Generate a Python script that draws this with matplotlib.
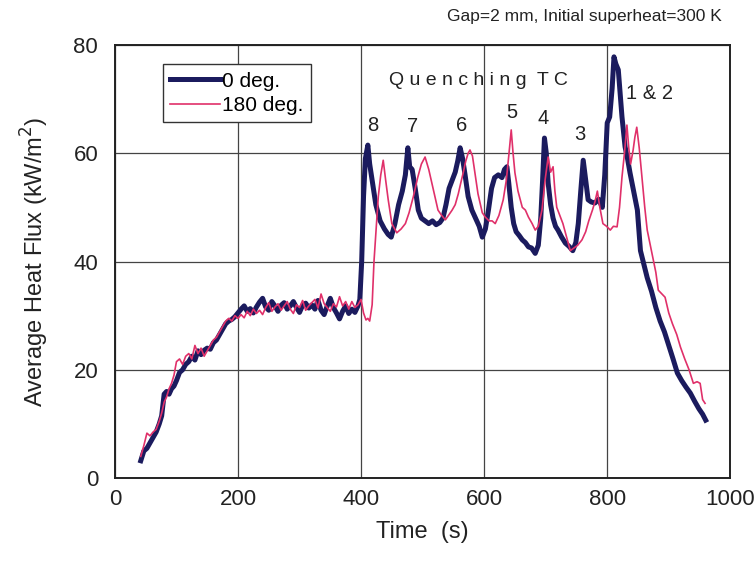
import matplotlib.pyplot as plt

plt.rcParams['font.family'] = ['Liberation Sans', 'DejaVu Sans']

# 0 deg. series (time in s, heat flux in kW/m2)
t_0deg = [42, 47, 52, 57, 62, 67, 72, 76, 80, 84,
          88, 92, 96, 100, 105, 110, 115, 120, 125, 130,
          135, 140, 145, 150, 155, 160, 165, 170, 175, 180,
          185, 190, 195, 200, 205, 210, 215, 220, 225, 230,
          235, 240, 245, 250, 255, 260, 265, 270, 275, 280,
          285, 290, 295, 300, 305, 310, 315, 320, 325, 330,
          335, 340, 345, 350, 355, 360, 365, 370, 375, 380,
          385, 390, 395, 398, 401, 404, 407, 411, 414, 418,
          424, 431, 438, 444, 449, 455, 461, 467, 472, 476,
          479, 483, 488, 493, 498, 504, 510, 516, 522, 528,
          533, 538, 543, 548, 553, 557, 561, 565, 569, 574,
          580, 586, 592, 597, 602, 607, 612, 617, 623, 629,
          633, 637, 640, 644, 648, 652, 657, 662, 667, 672,
          677, 683, 688, 692, 695, 698, 701, 704, 708, 712,
          716, 720, 726, 732, 738, 744, 749, 753, 757, 761,
          765, 769, 774, 780, 786, 792, 796, 800, 804, 808,
          811, 814, 818, 821, 824, 829, 833, 837, 843, 849,
          854, 859, 865, 872, 879, 886, 893, 900, 907, 914,
          921, 928, 935, 942, 949, 955, 960]
q_0deg = [3.2, 5.0, 5.5, 6.5, 7.5, 8.5, 10.0, 11.5, 15.5, 16.0,
          15.5, 16.5, 17.0, 18.0, 19.5, 20.0, 21.0, 21.5, 22.5, 21.8,
          23.5, 22.8, 23.6, 24.0, 23.8, 25.0, 25.5, 26.5, 27.5, 28.5,
          29.0, 29.3, 29.8, 30.5, 31.2, 31.8, 30.8, 31.3, 30.5, 31.6,
          32.5, 33.2, 31.6, 31.0, 32.6, 31.8, 30.8, 31.9, 32.4, 31.2,
          31.8, 32.6, 31.5, 30.6, 31.9, 32.3, 31.4, 32.0, 31.2, 32.8,
          31.0, 30.2, 31.8, 33.2, 31.5, 30.5, 29.4, 30.8, 31.8, 30.4,
          31.2, 30.6, 31.8, 33.0, 40.0, 52.0, 59.0, 61.5, 58.0, 55.0,
          50.5, 47.5, 46.0, 45.0, 44.5, 47.0, 50.5, 53.0, 56.0, 61.0,
          57.5, 57.0, 53.5, 49.5, 48.0, 47.5, 47.0, 47.5, 46.8, 47.2,
          48.0, 50.5, 53.5, 55.0, 56.5, 58.5, 61.0, 59.0, 56.0, 52.0,
          49.5, 48.0, 46.5, 44.5, 46.0, 49.5, 53.5, 55.5, 56.0, 55.5,
          57.0, 57.5, 54.5, 50.0, 47.0, 45.5, 44.8, 44.0, 43.5, 42.7,
          42.5, 41.5, 43.0, 48.0, 55.0, 62.8, 60.0, 54.5, 50.5, 48.0,
          46.5, 45.8, 44.5, 43.4, 42.8, 42.0, 43.5, 47.0, 53.0, 58.7,
          55.0, 51.4, 51.0, 50.8, 51.5, 50.0, 56.0, 65.6, 66.7, 72.0,
          77.8, 76.5, 75.4, 71.0, 66.7, 61.2, 59.0, 56.4, 53.0, 49.5,
          42.0, 39.7, 37.0, 34.5, 31.5, 29.0, 27.0, 24.5, 22.0, 19.4,
          18.0, 16.8, 15.7, 14.2, 12.8, 11.8, 10.7]

# 180 deg. series
t_180deg = [42, 47, 52, 57, 62, 67, 72, 76, 80, 84,
            88, 92, 96, 100, 105, 110, 115, 120, 125, 130,
            135, 140, 145, 150, 155, 160, 165, 170, 175, 180,
            185, 190, 195, 200, 205, 210, 215, 220, 225, 230,
            235, 240, 245, 250, 255, 260, 265, 270, 275, 280,
            285, 290, 295, 300, 305, 310, 315, 320, 325, 330,
            335, 340, 345, 350, 355, 360, 365, 370, 375, 380,
            385, 390, 395, 400, 404, 408, 411, 414, 418, 421,
            425, 428, 432, 436, 440, 444, 450, 458, 465, 472,
            478, 485, 492, 498, 504, 510, 515, 520, 525, 531,
            537, 542, 548, 553, 558, 562, 566, 570, 574, 577,
            581, 585, 590, 597, 602, 608, 613, 618, 624, 631,
            636, 640, 644, 647, 650, 655, 662, 667, 672, 678,
            683, 688, 694, 699, 704, 708, 712, 715, 718, 723,
            728, 734, 740, 746, 752, 759, 765, 770, 776, 780,
            784, 788, 793, 799, 805, 810, 816, 820, 824, 828,
            832, 835, 838, 842, 845, 848, 852, 857, 861, 865,
            870, 875, 879, 883, 889, 894, 900, 906, 913, 919,
            926, 933, 940, 946, 951, 955, 959]
q_180deg = [4.0, 6.0, 8.3, 7.8, 8.5, 9.0, 10.5, 12.0, 14.0, 15.0,
            16.5, 17.5, 19.0, 21.5, 22.0, 21.0, 22.5, 23.0, 22.0, 24.5,
            23.0, 24.0, 22.5, 23.5, 24.5, 25.5, 26.0, 27.0, 28.0, 29.0,
            29.5, 29.0, 30.0, 29.5, 30.2, 29.6, 30.8, 30.0, 31.2, 30.4,
            31.0, 30.2, 31.5, 32.4, 30.8, 31.6, 32.2, 31.0, 31.8, 32.6,
            31.2, 30.4, 32.0, 31.5, 32.8, 31.0, 31.8, 32.4, 33.0, 31.4,
            34.0, 32.2, 31.5, 30.8, 32.2, 31.6, 33.5, 31.8, 32.6, 31.2,
            32.6, 31.5, 32.0, 33.0, 30.5, 29.2, 29.5, 29.0, 32.0, 40.0,
            47.0, 52.0, 56.0, 58.7, 55.0, 51.5, 47.0, 45.3, 46.0, 47.0,
            49.0, 52.0, 55.5, 58.0, 59.3, 57.0, 54.5, 52.0, 49.5, 48.5,
            47.7, 48.5, 49.5, 50.5, 52.5, 54.5, 56.4, 58.5, 60.0, 60.6,
            59.5, 56.4, 52.5, 49.0, 48.2, 47.5, 47.5, 47.0, 48.5, 51.4,
            55.0, 59.5, 64.3, 60.0, 56.4, 53.0, 50.0, 49.5, 48.2, 47.0,
            45.8, 46.5, 49.5, 55.0, 59.3, 56.5, 57.5, 53.0, 50.0, 48.5,
            47.0, 44.5, 42.0, 42.5, 43.0, 44.0, 45.5, 47.5, 49.5, 51.0,
            53.0, 50.0, 47.0, 46.5, 45.8, 46.5, 46.4, 50.0, 55.6, 60.0,
            65.2, 61.0, 58.0, 60.5, 63.0, 64.8, 61.0, 55.0, 50.0, 45.8,
            43.0, 40.3, 38.0, 34.7, 34.0, 33.4, 30.5, 28.5, 26.5, 24.2,
            22.0, 20.0, 17.5, 17.8, 17.5, 14.5, 13.8]

# quenching thermocouple labels: (text, time, flux)
tc_labels = ['8', '7', '6', '5', '4', '3', '1 & 2']
tc_t = [419, 483, 563, 645, 696, 756, 868]
tc_q = [65.2, 64.9, 65.2, 67.6, 66.5, 63.4, 71.1]

fig = plt.figure(figsize=(7.56, 5.76), dpi=100)
ax = fig.add_axes([0.152, 0.170, 0.814, 0.752])

ax.plot(t_0deg, q_0deg, color='#1b1b5e', lw=3.6, label='0 deg.', zorder=3)
ax.plot(t_180deg, q_180deg, color='#e0306a', lw=1.2, label='180 deg.', zorder=4)

ax.set_xlim(0, 1000)
ax.set_ylim(0, 80)
ax.set_xticks([0, 200, 400, 600, 800, 1000])
ax.set_yticks([0, 20, 40, 60, 80])
ax.grid(True, color='#444444', lw=0.9)
ax.set_axisbelow(True)
ax.tick_params(length=0, labelsize=16, colors='#222222')
ax.tick_params(axis='y', pad=12)
ax.tick_params(axis='x', pad=8)
for s in ax.spines.values():
    s.set_linewidth(1.4)
    s.set_color('#222222')

ax.set_xlabel('Time  (s)', fontsize=17, color='#222222', labelpad=8)
ax.set_ylabel('Average Heat Flux (kW/m$^2$)', fontsize=17, color='#222222', labelpad=16)

fig.text(0.955, 0.972, 'Gap=2 mm, Initial superheat=300 K', ha='right', va='center',
         fontsize=12.5, color='#222222')
ax.text(590, 73.5, 'Q u e n c h i n g  T C', ha='center', va='center',
        fontsize=14, color='#222222')
for lab, x, y in zip(tc_labels, tc_t, tc_q):
    ax.text(x, y, lab, ha='center', va='center', fontsize=14.5, color='#222222')

leg = ax.legend(loc='upper left', bbox_to_anchor=(0.078, 0.955), fontsize=15,
                frameon=True, fancybox=False, edgecolor='#333333', framealpha=1,
                handlelength=2.4, handletextpad=0.1, borderpad=0.35,
                labelspacing=0.25, borderaxespad=0)
leg.get_frame().set_linewidth(1.0)

fig.savefig('out.png', dpi=100)
